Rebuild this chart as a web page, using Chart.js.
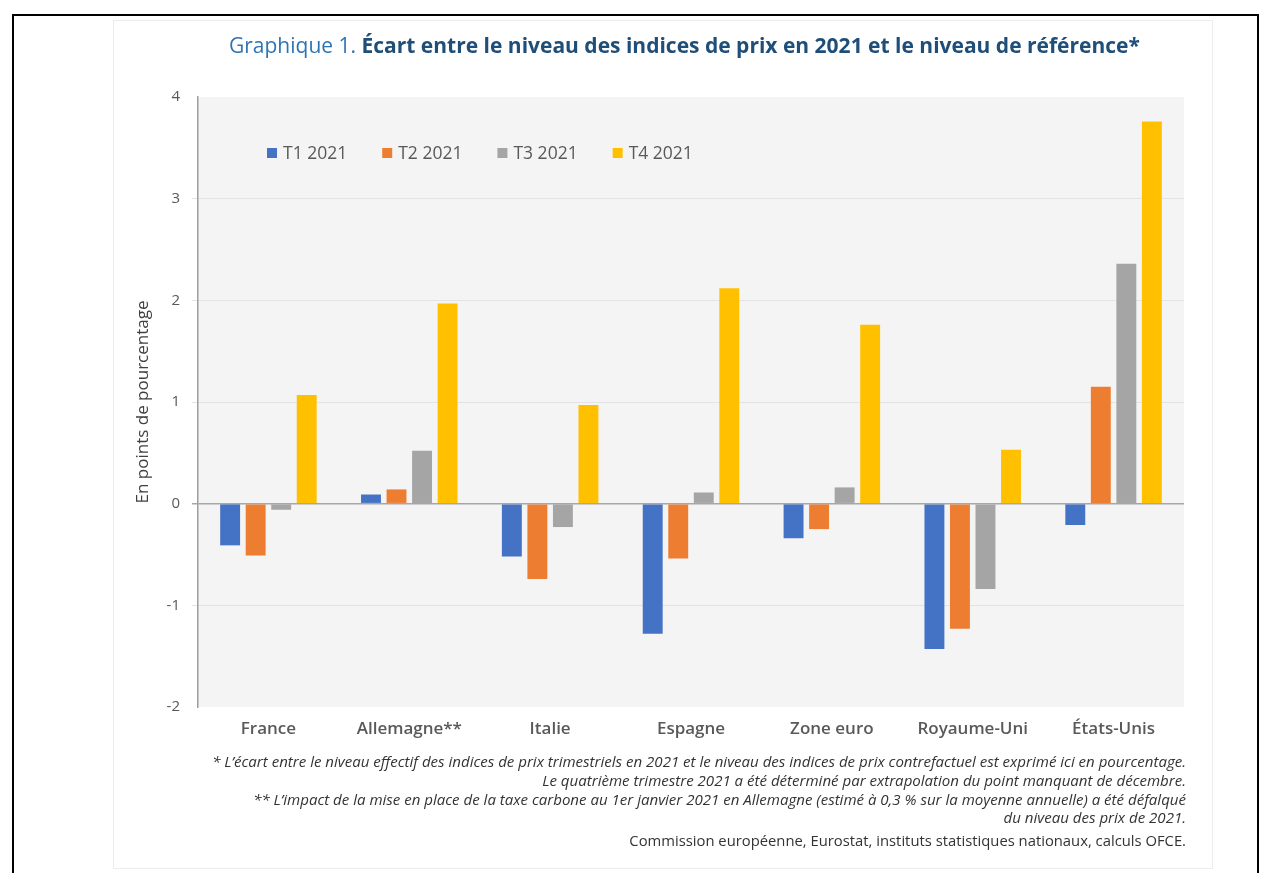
<!DOCTYPE html>
<html lang="fr">
<head>
<meta charset="utf-8">
<title>Graphique 1</title>
<script src="https://cdn.jsdelivr.net/npm/chart.js@4.4.0/dist/chart.umd.min.js"></script>
<style>
  html, body { margin: 0; padding: 0; background: #fff; }
  body { width: 1266px; height: 873px; position: relative; overflow: hidden; font-family: "Open Sans", sans-serif; }
  #frame { position: absolute; left: 12px; top: 14px; width: 1243px; height: 900px; border: 2px solid #000; }
  #panel { position: absolute; left: 113px; top: 20px; width: 1098px; height: 847px; border: 1px solid #ececec; background: #fff; }
  #chart { position: absolute; left: 0; top: 0; }
  #title { position: absolute; left: 229px; top: 31px; white-space: nowrap; font-size: 21px; }
  #title .num { color: #2e74b5; }
  #title .txt { color: #1f4e79; font-weight: 700; }
  #notes { position: absolute; right: 80px; top: 752px; text-align: right; color: #333; font-size: 15.05px; line-height: 18.8px; font-style: italic; white-space: nowrap; }
  #source { position: absolute; right: 80px; top: 830px; color: #333; font-size: 14.8px; white-space: nowrap; }
</style>
</head>
<body>
<div id="frame"></div>
<div id="panel"></div>
<canvas id="chart" width="1266" height="873"></canvas>
<div id="title"><span class="num">Graphique 1. </span><span class="txt">Écart entre le niveau des indices de prix en 2021 et le niveau de référence*</span></div>
<div id="notes">
  * L’écart entre le niveau effectif des indices de prix trimestriels en 2021 et le niveau des indices de prix contrefactuel est exprimé ici en pourcentage.<br>
  Le quatrième trimestre 2021 a été déterminé par extrapolation du point manquant de décembre.<br>
  ** L’impact de la mise en place de la taxe carbone au 1er janvier 2021 en Allemagne (estimé à 0,3 % sur la moyenne annuelle) a été défalqué<br>
  du niveau des prix de 2021.
</div>
<div id="source">Commission européenne, Eurostat, instituts statistiques nationaux, calculs OFCE.</div>
<script>
const categories = ['France', 'Allemagne**', 'Italie', 'Espagne', 'Zone euro', 'Royaume-Uni', 'États-Unis'];
const seriesLabels = ['T1 2021', 'T2 2021', 'T3 2021', 'T4 2021'];
const t1 = [-0.41, 0.09, -0.52, -1.28, -0.34, -1.43, -0.21];
const t2 = [-0.51, 0.14, -0.74, -0.54, -0.25, -1.23, 1.15];
const t3 = [-0.06, 0.52, -0.23, 0.11, 0.16, -0.84, 2.36];
const t4 = [1.07, 1.97, 0.97, 2.12, 1.76, 0.53, 3.76];
const yMin = -2;
const yMax = 4;
const yStep = 1;

const colors = ['#4472c4', '#ed7d31', '#a5a5a5', '#ffc000'];

// grey plot background behind the bars
const plotBackground = {
  id: 'plotBackground',
  beforeDraw(chart) {
    const { ctx, chartArea } = chart;
    ctx.save();
    ctx.fillStyle = '#f4f4f4';
    ctx.fillRect(chartArea.left, chartArea.top, chartArea.right - chartArea.left, chartArea.bottom - chartArea.top);
    ctx.restore();
  }
};

// legend sits inside the plot, top left
const innerLegend = {
  id: 'innerLegend',
  afterDatasetsDraw(chart) {
    const { ctx, chartArea } = chart;
    const box = 10;
    let x = chartArea.left + 69;
    const y = chartArea.top + 56;
    ctx.save();
    ctx.font = '17.5px "Open Sans"';
    ctx.textBaseline = 'middle';
    chart.data.datasets.forEach(ds => {
      ctx.fillStyle = ds.backgroundColor;
      ctx.fillRect(x, y - box / 2, box, box);
      ctx.fillStyle = '#595959';
      ctx.fillText(ds.label, x + box + 6, y + 1);
      x += box + 6 + ctx.measureText(ds.label).width + 35;
    });
    ctx.restore();
  }
};

const ctx = document.getElementById('chart').getContext('2d');

new Chart(ctx, {
  type: 'bar',
  data: {
    labels: categories,
    datasets: [t1, t2, t3, t4].map((values, i) => ({
      label: seriesLabels[i],
      data: values,
      backgroundColor: colors[i],
      categoryPercentage: 0.725,
      barPercentage: 0.78
    }))
  },
  options: {
    responsive: false,
    animation: false,
    layout: { padding: { left: 130, top: 97, right: 82, bottom: 126 } },
    plugins: {
      legend: { display: false },
      tooltip: { enabled: false }
    },
    scales: {
      x: {
        grid: { display: false, drawTicks: false },
        border: { display: false },
        ticks: { color: '#595959', padding: 12, font: { family: 'Open Sans', size: 17, weight: '600' } },
        afterFit: scale => { scale.height = 40; }
      },
      y: {
        min: yMin,
        max: yMax,
        ticks: { stepSize: yStep, color: '#595959', padding: 12, font: { family: 'Open Sans', size: 15 } },
        grid: {
          tickLength: 6,
          color: c => c.tick.value === 0 ? '#a6a6a6' : (c.tick.value === yMax || c.tick.value === yMin ? 'rgba(0,0,0,0)' : '#e3e3e3'),
          lineWidth: c => c.tick.value === 0 ? 1.5 : 1
        },
        border: { color: '#9e9e9e', width: 1.5 },
        title: {
          display: true,
          text: 'En points de pourcentage',
          color: '#404040',
          padding: { top: 3, bottom: 0 },
          font: { family: 'Open Sans', size: 17 }
        },
        afterFit: scale => { scale.width = 68; }
      }
    }
  },
  plugins: [plotBackground, innerLegend]
});
</script>
</body>
</html>
